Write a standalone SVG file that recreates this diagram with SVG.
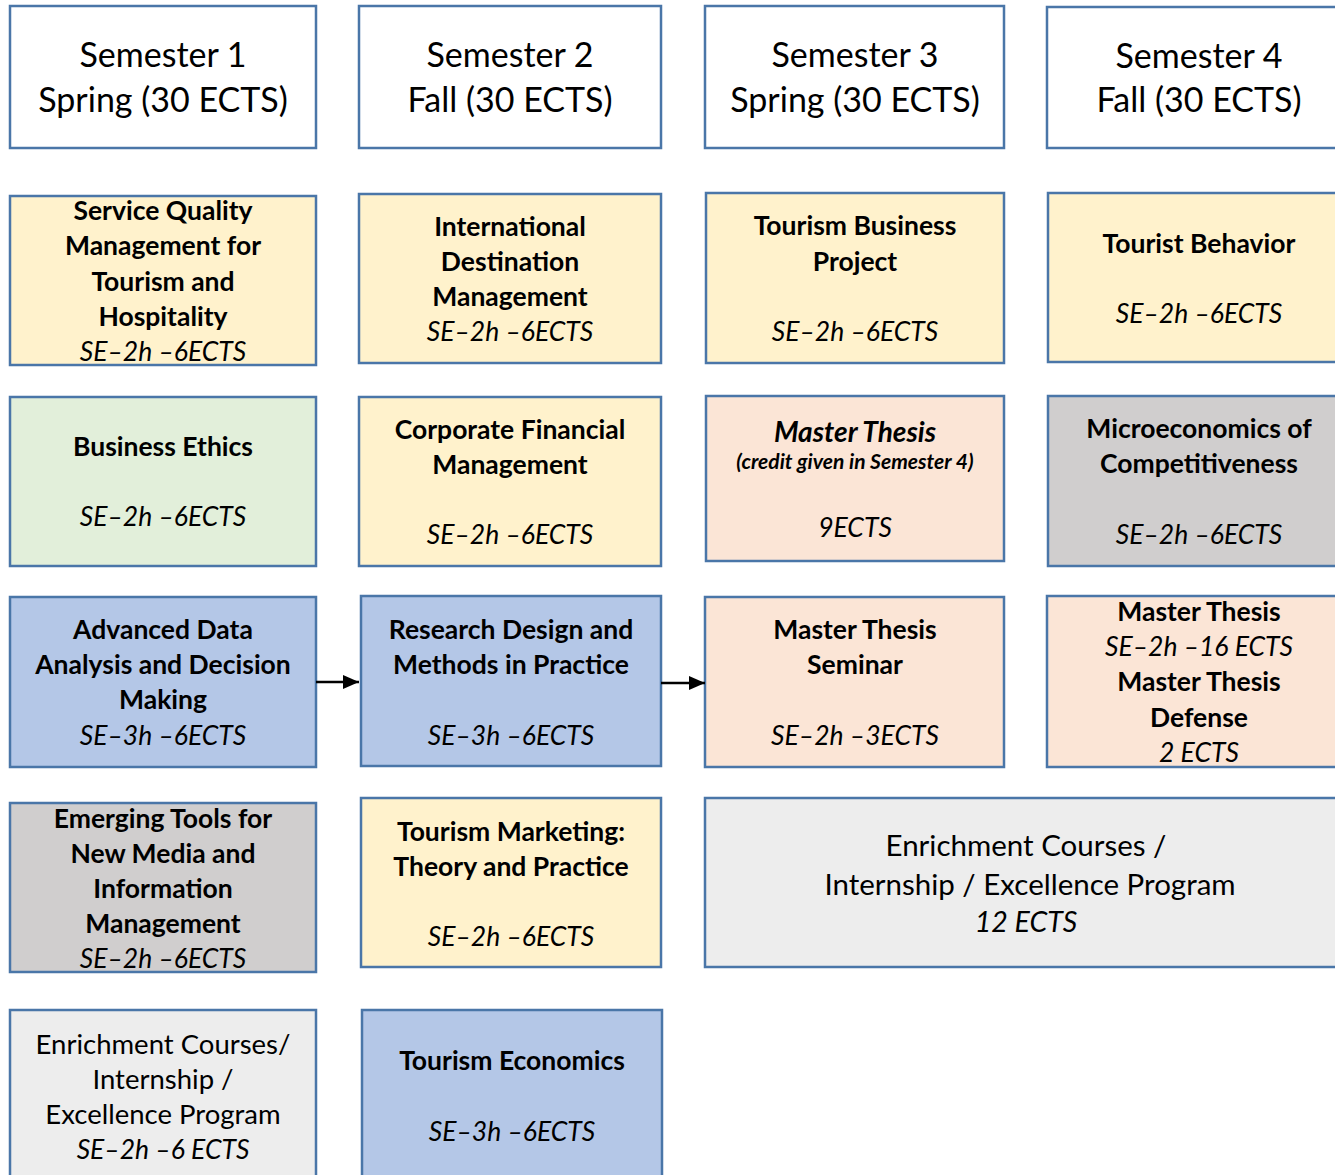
<svg xmlns="http://www.w3.org/2000/svg" width="1335" height="1175" viewBox="0 0 1335 1175">
<style>
text{font-family:Lato,"Open Sans","Liberation Sans",sans-serif;fill:#000;text-anchor:middle}
.box{stroke:#4A76A8;stroke-width:2.5}
.hd{fill:#fff}.y{fill:#FFF2CC}.g{fill:#E2EFDA}.p{fill:#FBE5D6}.gr{fill:#D0CECE}.b{fill:#B4C7E7}.lg{fill:#EDEDED}
.h{font-size:34px}
.t{font-size:26.5px;font-weight:bold}
.i{font-size:26.5px;font-style:italic}
.bi{font-size:28px;font-weight:bold;font-style:italic}
.s{font-size:21px;font-weight:bold;font-style:italic}
.r{font-size:27.5px}
.r2{font-size:29.5px}
</style>
<defs><marker id="a" viewBox="0 0 16 14" refX="16" refY="7" markerWidth="16" markerHeight="14" markerUnits="userSpaceOnUse" orient="auto"><path d="M0,0L16,7L0,14z" fill="#000"/></marker></defs>

<g id="h1"><rect class="box hd" x="10" y="6" width="306" height="142"/><text class="h" x="163" y="67">Semester 1</text><text class="h" x="163" y="112">Spring (30 ECTS)</text></g>
<g id="h2"><rect class="box hd" x="359" y="6" width="302" height="142"/><text class="h" x="510" y="67">Semester 2</text><text class="h" x="510" y="112">Fall (30 ECTS)</text></g>
<g id="h3"><rect class="box hd" x="705" y="6" width="299" height="142"/><text class="h" x="855" y="67">Semester 3</text><text class="h" x="855" y="112">Spring (30 ECTS)</text></g>
<g id="h4"><rect class="box hd" x="1047" y="7" width="300" height="141"/><text class="h" x="1199" y="68">Semester 4</text><text class="h" x="1199" y="112">Fall (30 ECTS)</text></g>

<g id="c11"><rect class="box y" x="10" y="196" width="306" height="169"/>
<text class="t" x="163" y="220">Service Quality</text><text class="t" x="163" y="255">Management for</text><text class="t" x="163" y="291">Tourism and</text><text class="t" x="163" y="326">Hospitality</text><text class="i" x="163" y="361">SE–2h –6ECTS</text></g>
<g id="c12"><rect class="box y" x="359" y="194" width="302" height="169"/>
<text class="t" x="510" y="236">International</text><text class="t" x="510" y="271">Destination</text><text class="t" x="510" y="306">Management</text><text class="i" x="510" y="341">SE–2h –6ECTS</text></g>
<g id="c13"><rect class="box y" x="706" y="193" width="298" height="170"/>
<text class="t" x="855" y="235">Tourism Business</text><text class="t" x="855" y="271">Project</text><text class="i" x="855" y="341">SE–2h –6ECTS</text></g>
<g id="c14"><rect class="box y" x="1048" y="193" width="300" height="169"/>
<text class="t" x="1199" y="253">Tourist Behavior</text><text class="i" x="1199" y="323">SE–2h –6ECTS</text></g>

<g id="c21"><rect class="box g" x="10" y="397" width="306" height="169"/>
<text class="t" x="163" y="456">Business Ethics</text><text class="i" x="163" y="526">SE–2h –6ECTS</text></g>
<g id="c22"><rect class="box y" x="359" y="397" width="302" height="169"/>
<text class="t" x="510" y="439">Corporate Financial</text><text class="t" x="510" y="474">Management</text><text class="i" x="510" y="544">SE–2h –6ECTS</text></g>
<g id="c23"><rect class="box p" x="706" y="396" width="298" height="165"/>
<text class="bi" x="855" y="442">Master Thesis</text><text class="s" x="855" y="469">(credit given in Semester 4)</text><text class="i" x="855" y="537">9ECTS</text></g>
<g id="c24"><rect class="box gr" x="1048" y="396" width="300" height="170"/>
<text class="t" x="1199" y="438">Microeconomics of</text><text class="t" x="1199" y="473">Competitiveness</text><text class="i" x="1199" y="544">SE–2h –6ECTS</text></g>

<g id="c31"><rect class="box b" x="10" y="597" width="306" height="170"/>
<text class="t" x="163" y="639">Advanced Data</text><text class="t" x="163" y="674">Analysis and Decision</text><text class="t" x="163" y="709">Making</text><text class="i" x="163" y="745">SE–3h –6ECTS</text></g>
<g id="c32"><rect class="box b" x="361" y="596" width="300" height="170"/>
<text class="t" x="511" y="639">Research Design and</text><text class="t" x="511" y="674">Methods in Practice</text><text class="i" x="511" y="745">SE–3h –6ECTS</text></g>
<g id="c33"><rect class="box p" x="705" y="597" width="299" height="170"/>
<text class="t" x="855" y="639">Master Thesis</text><text class="t" x="855" y="674">Seminar</text><text class="i" x="855" y="745">SE–2h –3ECTS</text></g>
<g id="c34"><rect class="box p" x="1047" y="596" width="300" height="171"/>
<text class="t" x="1199" y="621">Master Thesis</text><text class="i" x="1199" y="656">SE–2h –16 ECTS</text><text class="t" x="1199" y="691">Master Thesis</text><text class="t" x="1199" y="727">Defense</text><text class="i" x="1199" y="762">2 ECTS</text></g>

<g id="c41"><rect class="box gr" x="10" y="803" width="306" height="169"/>
<text class="t" x="163" y="828">Emerging Tools for</text><text class="t" x="163" y="863">New Media and</text><text class="t" x="163" y="898">Information</text><text class="t" x="163" y="933">Management</text><text class="i" x="163" y="968">SE–2h –6ECTS</text></g>
<g id="c42"><rect class="box y" x="361" y="798" width="300" height="169"/>
<text class="t" x="511" y="841">Tourism Marketing:</text><text class="t" x="511" y="876">Theory and Practice</text><text class="i" x="511" y="946">SE–2h –6ECTS</text></g>
<g id="c43"><rect class="box lg" x="705" y="798" width="650" height="169"/>
<text class="r2" x="1026" y="856">Enrichment Courses /</text><text class="r2" x="1030" y="895">Internship / Excellence Program</text><text class="i" x="1026" y="932" style="font-size:28.5px">12 ECTS</text></g>

<g id="c51"><rect class="box lg" x="10" y="1010" width="306" height="180"/>
<text class="r" x="163" y="1054">Enrichment Courses/</text><text class="r" x="163" y="1089">Internship /</text><text class="r" x="163" y="1124">Excellence Program</text><text class="i" x="163" y="1159">SE–2h –6 ECTS</text></g>
<g id="c52"><rect class="box b" x="362" y="1010" width="300" height="180"/>
<text class="t" x="512" y="1070">Tourism Economics</text><text class="i" x="512" y="1141">SE–3h –6ECTS</text></g>

<g id="connectors" stroke="#000" stroke-width="2.5" fill="none">
<line x1="316" y1="682" x2="359" y2="682" marker-end="url(#a)"/>
<line x1="661" y1="683" x2="705" y2="683" marker-end="url(#a)"/>
</g>
</svg>
